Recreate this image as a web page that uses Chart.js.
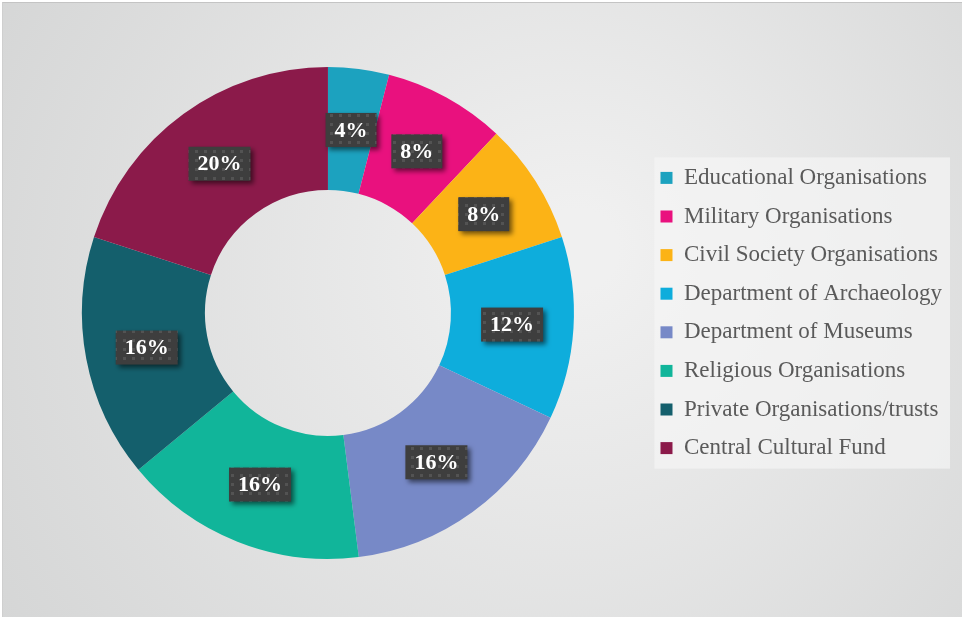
<!DOCTYPE html>
<html>
<head>
<meta charset="utf-8">
<script src="https://cdn.jsdelivr.net/npm/chart.js@4/dist/chart.umd.min.js"></script>
<style>
  html, body { margin: 0; padding: 0; background: #fff; }
  #wrap { position: absolute; left: 2px; top: 2px; width: 959px; height: 614px; border-top: 1px solid #c4c4c4; border-left: 1px solid #cfcfcf; }
  canvas { display: block; }
</style>
</head>
<body>
<div id="wrap"><canvas id="chart-area" width="959" height="614"></canvas></div>
<script>
// funding sources, share of total (%)
var labels = [
    'Educational Organisations',
    'Military Organisations',
    'Civil Society Organisations',
    'Department of Archaeology',
    'Department of Museums',
    'Religious Organisations',
    'Private Organisations/trusts',
    'Central Cultural Fund'
];
var shares = [4, 8, 8, 12, 16, 16, 16, 20];
var colours = [
    '#1ca2bf', // teal blue
    '#e9117e', // magenta
    '#fcb316', // amber
    '#0eaddc', // sky blue
    '#7789c7', // lavender
    '#11b59a', // green teal
    '#145f6c', // dark teal
    '#8b1a4a'  // plum
];

// dotted dark fill for the value tags
function makeDots(ctx) {
    var c = document.createElement('canvas');
    c.width = 9; c.height = 9;
    var p = c.getContext('2d');
    p.fillStyle = '#3e3e3e';
    p.fillRect(0, 0, 9, 9);
    p.fillStyle = '#535353';
    p.fillRect(3, 3, 3, 3);
    return ctx.createPattern(c, 'repeat');
}

var backdrop = {
    id: 'backdrop',
    beforeDraw: function(chart) {
        var ctx = chart.ctx, w = chart.width, h = chart.height;
        ctx.save();
        var g = ctx.createRadialGradient(w * 0.6, h * 0.4, 40, w * 0.55, h * 0.5, w * 0.72);
        g.addColorStop(0, '#f0f0f0');
        g.addColorStop(1, '#d2d3d3');
        ctx.fillStyle = g;
        ctx.fillRect(0, 0, w, h);
        // legend panel
        var hb = chart.legend.legendHitBoxes;
        if (hb && hb.length) {
            var x0 = hb[0].left - 6, y0 = hb[0].top - 9;
            var last = hb[hb.length - 1];
            var x1 = Math.max.apply(null, hb.map(function(b) { return b.left + b.width; })) + 8;
            ctx.fillStyle = 'rgba(245,245,245,0.7)';
            ctx.fillRect(x0, y0, x1 - x0, last.top + last.height + 9 - y0);
        }
        ctx.restore();
    }
};

var valueTags = {
    id: 'valueTags',
    afterDatasetsDraw: function(chart) {
        var ctx = chart.ctx;
        var dots = makeDots(ctx);
        var meta = chart.getDatasetMeta(0);
        ctx.save();
        ctx.font = 'bold 22px "Liberation Serif", serif';
        ctx.textAlign = 'center';
        ctx.textBaseline = 'middle';
        meta.data.forEach(function(arc, i) {
            var pt = arc.tooltipPosition();
            var txt = shares[i] + '%';
            var w = ctx.measureText(txt).width + 18, h = 34;
            ctx.save();
            ctx.shadowColor = 'rgba(0,0,0,0.55)';
            ctx.shadowBlur = 5;
            ctx.shadowOffsetX = 3;
            ctx.shadowOffsetY = 3;
            ctx.fillStyle = dots;
            ctx.fillRect(pt.x - w / 2, pt.y - h / 2, w, h);
            ctx.restore();
            ctx.fillStyle = '#ffffff';
            ctx.fillText(txt, pt.x, pt.y + 1);
        });
        ctx.restore();
    }
};

var config = {
    type: 'doughnut',
    data: {
        labels: labels,
        datasets: [{
            data: shares,
            backgroundColor: colours,
            borderWidth: 0
        }]
    },
    options: {
        responsive: false,
        animation: false,
        cutout: '50%',
        layout: { padding: { top: 64, bottom: 58, left: 8, right: 10 } },
        plugins: {
            tooltip: { enabled: false },
            legend: {
                position: 'right',
                labels: {
                    boxWidth: 12,
                    boxHeight: 12,
                    padding: 15.6,
                    color: '#5a5a5a',
                    font: { family: '"Liberation Serif", serif', size: 23 }
                }
            }
        }
    },
    plugins: [backdrop, valueTags]
};

window.onload = function() {
    var ctx = document.getElementById('chart-area').getContext('2d');
    window.myDoughnut = new Chart(ctx, config);
};
</script>
</body>
</html>
